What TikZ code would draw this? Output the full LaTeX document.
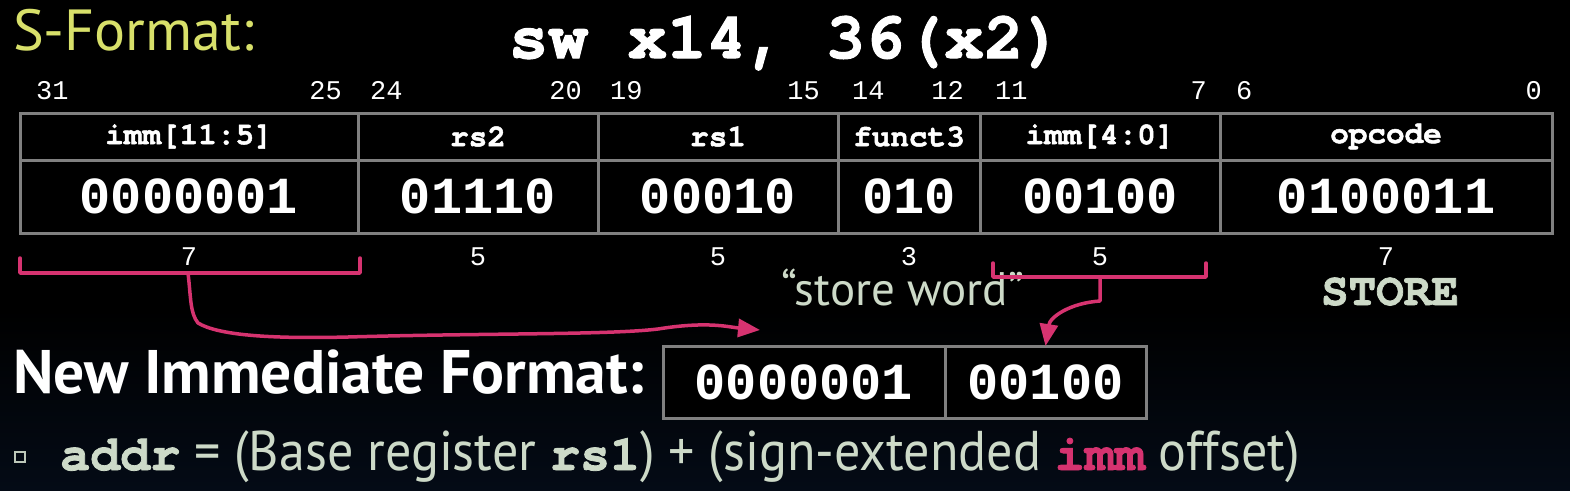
\documentclass[tikz,border=0pt]{standalone}
\usepackage{fontspec}
\usepackage{tikz}
\usetikzlibrary{calc,arrows.meta,positioning}
\setmainfont{PT Sans}
\newfontfamily\slidefont{PT Sans}
\newfontfamily\narrowfont[FakeStretch=0.93]{PT Sans}
\newfontfamily\codefont{Liberation Mono}
\newfontfamily\courfont{texgyrecursor}[Extension=.otf,UprightFont=*-regular,BoldFont=*-bold,BoldFeatures={FakeBold=1.6}]
\definecolor{cellgray}{RGB}{128,128,128}
\definecolor{imm}{RGB}{214,51,112}
\definecolor{sage}{RGB}{205,218,200}
\definecolor{title}{RGB}{216,224,106}
\definecolor{navy}{RGB}{4,11,22}
\tikzset{
  field/.style={draw=cellgray, line width=3pt, inner sep=0pt, outer sep=0pt, text=white, fill=black},
  hdr/.style={field, minimum height=47pt, font=\courfont\bfseries\fontsize{31}{31}\selectfont},
  val/.style={field, minimum height=73pt, font=\codefont\bfseries\fontsize{52}{52}\selectfont},
  newval/.style={val, minimum height=72pt},
  bitno/.style={text=white, inner sep=0pt, font=\codefont\fontsize{27}{27}\selectfont},
  note/.style={text=sage, inner sep=0pt},
  brace/.style={draw=imm, line width=3.5pt, line cap=round, line join=round},
  immarrow/.style={brace, -{Triangle[length=22pt,width=18pt]}}
}
\begin{document}
\begin{tikzpicture}[x=1pt,y=-1pt]
  \useasboundingbox (0,0) rectangle (1570,490);
  \fill[black] (0,0) rectangle (1570,310);
  \shade[top color=black, bottom color=navy] (0,309) rectangle (1570,490);

  % titles
  \node[anchor=base west, inner sep=0pt, text=title, font=\slidefont\fontsize{58}{58}\selectfont] (stitle) at (13,50) {S-Format:};
  \node[anchor=base, inner sep=0pt, text=white, font=\courfont\bfseries\fontsize{66}{66}\selectfont] (instr) at (786,58) {sw x14, 36(x2)};

  % instruction fields
  \node[val, minimum width=338pt] (immhiv) at (189,196.5) {0000001};
  \node[val, minimum width=240pt, right=0pt of immhiv] (rstwov) {01110};
  \node[val, minimum width=240pt, right=0pt of rstwov] (rsonev) {00010};
  \node[val, minimum width=142pt, right=0pt of rsonev] (functv) {010};
  \node[val, minimum width=240pt, right=0pt of functv] (immlov) {00100};
  \node[val, minimum width=332pt, right=0pt of immlov] (opcodev) {0100011};
  \node[hdr, minimum width=338pt, above=0pt of immhiv] (immhih) {imm[11:5]};
  \node[hdr, minimum width=240pt, above=0pt of rstwov] (rstwoh) {rs2};
  \node[hdr, minimum width=240pt, above=0pt of rsonev] (rsoneh) {rs1};
  \node[hdr, minimum width=142pt, above=0pt of functv] (functh) {funct3};
  \node[hdr, minimum width=240pt, above=0pt of immlov] (immloh) {imm[4:0]};
  \node[hdr, minimum width=332pt, above=0pt of opcodev] (opcodeh) {opcode};

  % bit positions
  \node[bitno, anchor=base west] at ($(immhih.north west)+(16,-14)$) {31};
  \node[bitno, anchor=base east] at ($(immhih.north east)+(-16,-14)$) {25};
  \node[bitno, anchor=base west] at ($(rstwoh.north west)+(12,-14)$) {24};
  \node[bitno, anchor=base east] at ($(rstwoh.north east)+(-16,-14)$) {20};
  \node[bitno, anchor=base west] at ($(rsoneh.north west)+(12,-14)$) {19};
  \node[bitno, anchor=base east] at ($(rsoneh.north east)+(-18,-14)$) {15};
  \node[bitno, anchor=base west] at ($(functh.north west)+(14,-14)$) {14};
  \node[bitno, anchor=base east] at ($(functh.north east)+(-16,-14)$) {12};
  \node[bitno, anchor=base west] at ($(immloh.north west)+(15,-14)$) {11};
  \node[bitno, anchor=base east] at ($(immloh.north east)+(-13,-14)$) {7};
  \node[bitno, anchor=base west] at ($(opcodeh.north west)+(16,-14)$) {6};
  \node[bitno, anchor=base east] at ($(opcodeh.north east)+(-10,-14)$) {0};

  % field widths
  \node[bitno, anchor=base] at ($(immhiv.south)+(0,32)$) {7};
  \node[bitno, anchor=base] at ($(rstwov.south)+(0,32)$) {5};
  \node[bitno, anchor=base] at ($(rsonev.south)+(0,32)$) {5};
  \node[bitno, anchor=base] at ($(functv.south)+(0,32)$) {3};
  \node[bitno, anchor=base] at ($(immlov.south)+(0,32)$) {5};
  \node[bitno, anchor=base] at ($(opcodev.south)+(0,32)$) {7};

  \node[note, anchor=base, font=\slidefont\fontsize{47}{47}\selectfont] (sword) at (903,305) {“store word”};
  \node[note, anchor=base, font=\courfont\bfseries\fontsize{46}{46}\selectfont] (store) at (1390,305) {STORE};

  % new immediate
  \node[anchor=base west, inner sep=0pt, text=white, font=\slidefont\bfseries\fontsize{61.5}{61.5}\selectfont] (newimm) at (13,393) {New Immediate Format:};
  \node[newval, minimum width=282pt] (newhi) at (804,382) {0000001};
  \node[newval, minimum width=201pt, right=0pt of newhi] (newlo) {00100};

  % braces and arrows
  \coordinate (bra) at ($(immhiv.south)+(-1,40)$);
  \coordinate (brb) at ($(immlov.south)+(0,44)$);
  \coordinate (tipa) at ($(newhi.north)+(-44,-16)$);
  \draw[brace] ($(immhiv.south west)+(0,25)$) -- ($(immhiv.south west)+(0,40)$) -- ($(immhiv.south east)+(2,40)$) -- ($(immhiv.south east)+(2,25)$);
  \draw[brace] ($(immlov.south west)+(13,30)$) -- ($(immlov.south west)+(13,44)$) -- ($(immlov.south east)+(-14,44)$) -- ($(immlov.south east)+(-14,30)$);
  \draw[immarrow] (bra) .. controls ($(bra)+(3,25)$) and ($(bra)+(2,40)$) .. ($(bra)+(10,50)$)
    .. controls ($(bra)+(30,62)$) and ($(bra)+(80,66)$) .. ($(bra)+(160,64)$)
    .. controls ($(bra)+(300,60)$) and ($(bra)+(420,62)$) .. ($(bra)+(470,56)$)
    .. controls ($(bra)+(520,48)$) and ($(bra)+(540,54)$) .. (tipa);
  \draw[immarrow] (brb) -- ($(brb)+(0,24)$) .. controls ($(brb)+(-30,26)$) and ($(brb)+(-50,40)$) .. (newlo.north);

  % address line
  \node[draw=sage!80!gray, line width=1.5pt, minimum size=10pt, inner sep=0pt] (bullet) at (20,457) {};
  \node[note, anchor=base west, font=\narrowfont\fontsize{56}{56}\selectfont] (addr) at (60,470)
    {{\courfont\bfseries\fontsize{50}{50}\selectfont addr} = (Base register {\courfont\bfseries\fontsize{50}{50}\selectfont rs1}) + (sign-extended {\courfont\bfseries\fontsize{50}{50}\selectfont\color{imm}imm} offset)};
\end{tikzpicture}
\end{document}
